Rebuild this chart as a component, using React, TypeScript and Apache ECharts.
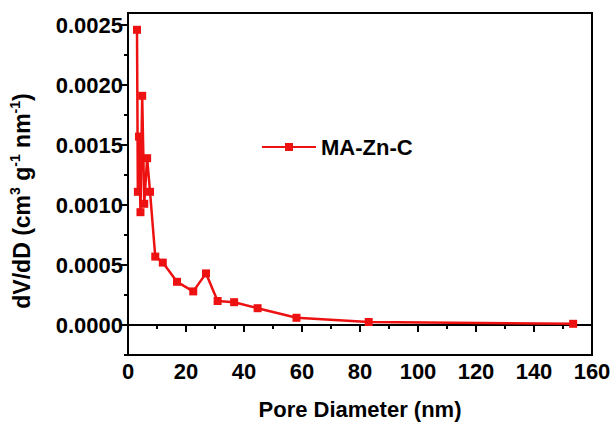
import React, { useEffect, useRef } from "react";
import * as echarts from "echarts";

const poreDiameter = [3.1, 3.4, 3.8, 4.3, 4.9, 5.6, 6.6, 7.6, 9.4, 12.0, 16.9, 22.5, 26.9, 30.9, 36.6, 44.7, 58.1, 83.0, 153.5];
const dVdD = [0.00246, 0.00111, 0.00157, 0.00094, 0.00191, 0.00101, 0.00139, 0.00111, 0.00057, 0.00052, 0.00036, 0.00028, 0.00043, 0.0002, 0.00019, 0.00014, 0.00006, 0.000025, 0.00001];
const yMajorTicks = [0, 0.0005, 0.001, 0.0015, 0.002, 0.0025];
const yMinorTicks = [-0.00025, 0.00025, 0.00075, 0.00125, 0.00175, 0.00225];
const seriesName = "MA-Zn-C";

const FONT = "Liberation Sans";
const RED = "#ee1111";

export default function App() {
  const ref = useRef<HTMLDivElement>(null);
  useEffect(() => {
    if (!ref.current) return;
    const chart = echarts.init(ref.current, null, { renderer: "svg" });
    const axisLine = { show: true, lineStyle: { color: "#000", width: 2 } };
    chart.setOption({
      animation: false,
      textStyle: { fontFamily: FONT },
      grid: { left: 122, right: 22, top: 13, bottom: 61, show: true, borderColor: "#000", borderWidth: 2 },
      legend: {
        left: 256,
        top: 131,
        itemWidth: 54,
        itemHeight: 10,
        itemGap: 8,
        textStyle: { fontSize: 22, fontWeight: "bold", color: "#000", fontFamily: FONT },
        data: [seriesName],
      },
      xAxis: {
        type: "value",
        min: 0,
        max: 160,
        interval: 20,
        name: "Pore Diameter (nm)",
        nameLocation: "middle",
        nameGap: 43,
        nameTextStyle: { fontSize: 22, fontWeight: "bold", color: "#000", fontFamily: FONT },
        axisLine,
        axisTick: { show: true, length: 7, lineStyle: { color: "#000", width: 2 } },
        minorTick: { show: true, splitNumber: 2, length: 4, lineStyle: { color: "#000", width: 2 } },
        axisLabel: { fontSize: 22, fontWeight: "bold", color: "#000", margin: 5, fontFamily: FONT },
        splitLine: { show: false },
      },
      yAxis: [
        {
          type: "value",
          min: -0.00025,
          max: 0.0026,
          name: "{a|dV/dD (cm}{s|3}{a| g}{s|-1}{a| nm}{s|-1}{a|)}",
          nameLocation: "middle",
          nameGap: 92,
          nameRotate: 90,
          nameTextStyle: {
            fontSize: 23,
            fontWeight: "bold",
            color: "#000",
            fontFamily: FONT,
            padding: [0, 34, 0, 0],
            rich: {
              a: { fontSize: 23, fontWeight: "bold", color: "#000", fontFamily: FONT, lineHeight: 28, verticalAlign: "middle" },
              s: { fontSize: 14, fontWeight: "bold", color: "#000", fontFamily: FONT, lineHeight: 16, verticalAlign: "top" },
            },
          },
          axisLine,
          axisTick: { show: true, length: 8, customValues: yMajorTicks, lineStyle: { color: "#000", width: 2 } },
          axisLabel: {
            fontSize: 22,
            fontWeight: "bold",
            color: "#000",
            margin: 5,
            fontFamily: FONT,
            customValues: yMajorTicks,
            formatter: (v: number) => v.toFixed(4),
          },
          splitLine: { show: false },
        },
        {
          type: "value",
          min: -0.00025,
          max: 0.0026,
          position: "left",
          axisLine: { show: false },
          axisTick: { show: true, length: 4, customValues: yMinorTicks, lineStyle: { color: "#000", width: 2 } },
          axisLabel: { show: false },
          splitLine: { show: false },
        },
      ],
      series: [
        {
          name: seriesName,
          type: "line",
          yAxisIndex: 0,
          data: poreDiameter.map((x, i) => [x, dVdD[i]]),
          symbol: "rect",
          symbolSize: 8,
          lineStyle: { color: RED, width: 2.5 },
          itemStyle: { color: RED },
        },
      ],
    });
    return () => chart.dispose();
  }, []);
  return <div ref={ref} style={{ position: "absolute", left: 0, top: 0, width: 614, height: 425 }} />;
}
